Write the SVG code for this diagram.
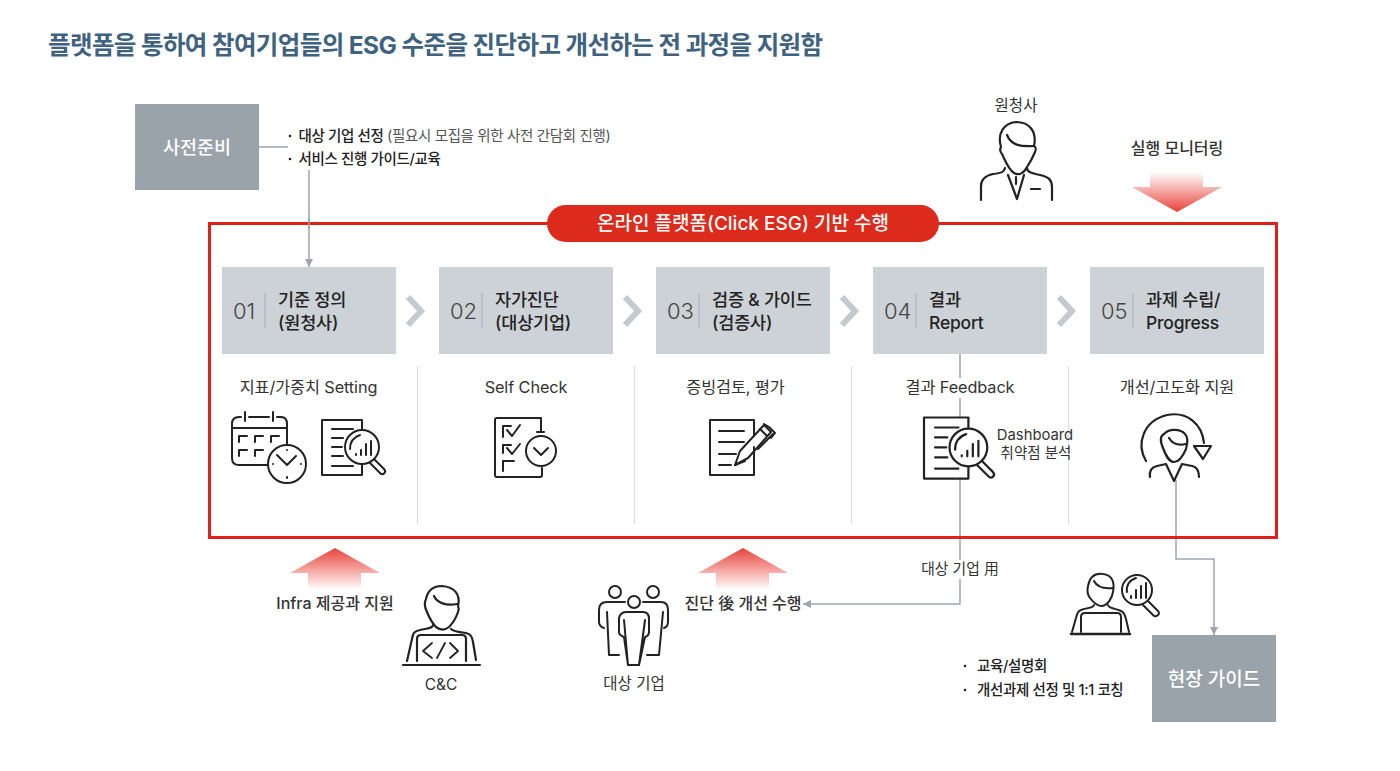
<svg xmlns="http://www.w3.org/2000/svg" width="1400" height="771" viewBox="0 0 1400 771">
<style>
text{font-family:Inter,"Noto Sans CJK KR","Noto Sans",sans-serif;fill:#333}
.ic{fill:none;stroke:#222;stroke-width:2;stroke-linecap:round;stroke-linejoin:round}
.step{fill:#cdd2d6}.gbox{fill:#9aa2aa}
.num{font-size:22px;fill:#444;font-weight:300}
.st{font-size:17.5px;font-weight:500;fill:#222;letter-spacing:-.2px}
.sub{font-size:16.300px;text-anchor:middle;fill:#333;letter-spacing:-.1px}
.lab{font-size:15.500px;fill:#333}
.b{font-size:14.500px;font-weight:500;fill:#222;letter-spacing:-.35px}
.dot{fill:#222}
.wt{fill:#fff;font-weight:500;text-anchor:middle}
.con{fill:none;stroke:#9ea5ac;stroke-width:1.5}
.div{stroke:#dcdfe2;stroke-width:1.2}
.chev{fill:none;stroke:#c5cacf;stroke-width:6}
.wb{fill:#fff}
</style>
<defs>
<linearGradient id="up" x1="0" y1="0" x2="0" y2="1"><stop offset="0" stop-color="#e8433a"/><stop offset="1" stop-color="#e8433a" stop-opacity="0"/></linearGradient>
<linearGradient id="dn" x1="0" y1="1" x2="0" y2="0"><stop offset="0" stop-color="#e8433a"/><stop offset="1" stop-color="#e8433a" stop-opacity="0"/></linearGradient>
<marker id="ah" markerWidth="10" markerHeight="10" refX="8" refY="4" orient="auto" markerUnits="userSpaceOnUse"><path d="M0 0L8 4L0 8Z" fill="#9ea5ac"/></marker>
<g id="doc">
<path class="ic" d="M40 9V0H0V55H40V45"/>
<path class="ic" d="M10 9H31M10 18H21M10 27H20M10 36H21M10 46H31"/>
<circle class="ic" cx="40" cy="27" r="17"/>
<path class="ic" d="M28 29C28 22 32 17 38 15M34 35V34M39 35V30M44 35V24M49 35V21"/>
<path class="ic" d="M52 39L62 49C65 52 61 56 58 53L48 43"/>
</g>
</defs>
<text id="title" x="48" y="54" font-size="24.5" font-weight="700" letter-spacing="-.6" style="fill:#3f6280">플랫폼을 통하여 참여기업들의 ESG 수준을 진단하고 개선하는 전 과정을 지원함</text>

<g id="connectors">
<path class="con" d="M259 147H288"/>
<path class="con" d="M309 170V267" marker-end="url(#ah)"/>
<path class="con" d="M960 354V604H803" marker-end="url(#ah)"/>
<path class="con" d="M1176 480V559H1214V635" marker-end="url(#ah)"/>
</g>

<g id="prep"><rect class="gbox" x="135" y="104" width="124" height="86"/><text class="wt" x="197" y="154" font-size="18.500">사전준비</text></g>
<g id="prep-notes">
<circle class="dot" cx="290" cy="136" r="1.300"/><circle class="dot" cx="290" cy="159" r="1.300"/>
<text class="b" x="298.500" y="141">대상 기업 선정 <tspan font-weight="400" style="fill:#555">(필요시 모집을 위한 사전 간담회 진행)</tspan></text>
<text class="b" x="298.500" y="164">서비스 진행 가이드/교육</text>
</g>

<g id="frame">
<rect x="209.500" y="223.500" width="1067" height="314" fill="none" stroke="#df2119" stroke-width="3"/>
<rect x="547" y="205" width="392" height="37" rx="18.500" fill="#dc2a1c"/>
<text class="wt" x="743" y="230" font-size="19">온라인 플랫폼(Click ESG) 기반 수행</text>
</g>
<path class="con" d="M309 218V229"/>

<g id="step1"><rect class="step" x="222" y="267" width="174" height="87"/><text class="num" x="233" y="319">01</text><path class="div" style="stroke:#aeb4ba" d="M265 293V328"/><text class="st" x="278" y="306">기준 정의</text><text class="st" x="278" y="329">(원청사)</text></g>
<g id="step2"><rect class="step" x="439" y="267" width="174" height="87"/><text class="num" x="450" y="319">02</text><path class="div" style="stroke:#aeb4ba" d="M482 293V328"/><text class="st" x="495" y="306">자가진단</text><text class="st" x="495" y="329">(대상기업)</text></g>
<g id="step3"><rect class="step" x="656" y="267" width="174" height="87"/><text class="num" x="667" y="319">03</text><path class="div" style="stroke:#aeb4ba" d="M699 293V328"/><text class="st" x="712" y="306">검증 &amp; 가이드</text><text class="st" x="712" y="329">(검증사)</text></g>
<g id="step4"><rect class="step" x="873" y="267" width="174" height="87"/><text class="num" x="884" y="319">04</text><path class="div" style="stroke:#aeb4ba" d="M916 293V328"/><text class="st" x="929" y="306">결과</text><text class="st" x="929" y="329">Report</text></g>
<g id="step5"><rect class="step" x="1090" y="267" width="174" height="87"/><text class="num" x="1101" y="319">05</text><path class="div" style="stroke:#aeb4ba" d="M1133 293V328"/><text class="st" x="1146" y="306">과제 수립/</text><text class="st" x="1146" y="329">Progress</text></g>

<g id="chevrons">
<path class="chev" d="M408 297L421 311L408 325"/><path class="chev" d="M625 297L638 311L625 325"/><path class="chev" d="M842 297L855 311L842 325"/><path class="chev" d="M1059 297L1072 311L1059 325"/>
</g>
<g id="dividers"><path class="div" d="M417.500 366V524M634.500 366V524M851.500 366V524M1068.500 366V524"/></g>

<g id="col1">
<text class="sub" x="308.500" y="393">지표/가중치 Setting</text>
<g class="ic"><path d="M267 465H239C234 465 232 462 232 458V424C232 419 235 417 239 417H241M245 412V421M249 417H269M273 412V421M277 417H281C285 417 287 420 287 424V445"/><path d="M233 428H286M239 442V436H247M255 442V436H263M271 442V436H279M239 456V450H247M255 456V450H263"/><circle cx="287" cy="464" r="19"/><path d="M277 455L287 465L296 456M287 450V450M287 477V478M273 464H273M301 464H301"/></g>
<use href="#doc" x="322" y="420"/>
</g>
<g id="col2">
<text class="sub" x="526" y="393">Self Check</text>
<g class="ic"><path d="M541 432V418H497C496 418 495 419 495 420V475C495 476 496 477 497 477H540C541 477 542 476 542 475V468"/><path d="M503 437V426H511M507 430L512 436L520 425M503 453V445H511M507 448L512 454L520 444M503 471V461H514M537 432H544"/><circle cx="541" cy="451" r="15"/><path d="M534 448L541 455L548 448"/></g>
</g>
<g id="col3">
<text class="sub" x="735.500" y="393">증빙검토, 평가</text>
<g class="ic"><path d="M754 436V420H710V475H754V447"/><path d="M719 431H744M719 442H744M719 454H736M719 465H731"/><path d="M735 465L740 451L764 425L771 432L748 458Z"/><path d="M760 429L767 436M764 424L769 427L775 433L771 438M758 449L773 434M735 465L745 461"/></g>
</g>
<g id="col4">
<rect class="wb" x="897" y="378" width="126" height="20"/>
<rect class="wb" x="955" y="417" width="12" height="62"/>
<text class="sub" x="960" y="393">결과 Feedback</text>
<use href="#doc" transform="translate(924 417.500) scale(1.11)"/>
<text class="lab" x="1035" y="440" text-anchor="middle" style="font-size:14.800px">Dashboard</text>
<text class="lab" x="1036" y="458" text-anchor="middle" style="font-size:14.500px">취약점 분석</text>
</g>
<g id="col5">
<text class="sub" x="1177" y="393">개선/고도화 지원</text>
<g class="ic" style="stroke-width:2.200"><path d="M1146 461C1136 444 1143 421 1167 415C1187 411 1202 424 1204 443"/><path d="M1194 446H1211L1203 459Z"/><path d="M1163 448C1160 441 1160 436 1164 434C1168 429 1180 428 1185 434C1188 437 1188 442 1186 449C1183 456 1179 462 1174 462C1169 462 1166 456 1163 448Z"/><path d="M1169 438C1172 443 1178 446 1186 444M1150 477C1149 470 1152 467 1157 466L1166 464L1174 481L1182 464L1192 466C1197 467 1199 471 1199 477"/></g>
</g>

<g id="client">
<text class="lab" x="1016" y="111" text-anchor="middle">원청사</text>
<g class="ic" style="stroke-width:2.200"><path d="M1001 147C997 133 1004 123 1016 122C1030 122 1037 132 1034 146C1036 147 1036 150 1035 152C1033 157 1031 161 1027 167C1024 173 1019 176 1014 173C1008 169 1005 160 1002 154C1000 152 1000 149 1001 147Z"/><path d="M1007 135C1011 145 1020 147 1034 146M1005 168C1004 172 1002 173 993 174C984 176 981 180 981 186V200M1027 168C1027 172 1031 173 1040 175C1049 177 1052 180 1052 187V200M1008 175L1017 199L1024 175M1016 177V184M1031 189H1040"/></g>
</g>
<text id="mon" class="lab" x="1177" y="154" text-anchor="middle" style="font-size:16px;font-weight:500">실행 모니터링</text>
<polygon id="arrow-down" fill="url(#dn)" points="1150,172 1203,172 1203,187 1222,187 1177,212 1132,187 1150,187"/>
<polygon id="arrow-up1" fill="url(#up)" points="335,548 380,573 361,573 361,590 308,590 308,573 290,573"/>
<polygon id="arrow-up2" fill="url(#up)" points="743,548 788,573 769,573 769,590 716,590 716,573 698,573"/>

<text class="lab" x="335" y="609" text-anchor="middle" style="font-weight:500;font-size:16px">Infra 제공과 지원</text>
<g id="cc">
<g class="ic" style="stroke-width:2.200"><path d="M426 599C428 589 434 586 442 586C454 587 461 594 458 606C459 608 459 610 458 612C456 618 452 624 449 627C444 631 440 630 436 627C431 622 429 617 427 612C425 608 424 603 426 599Z"/><path d="M434 596C437 603 446 606 457 604M433 625C433 628 429 628 420 630C414 631 413 633 412 639L407 661M451 629C452 631 458 632 466 633C471 634 472 637 473 642L476 660"/><path d="M417 661V639C417 636 418 635 421 635H462C465 635 466 636 466 639V661M403 665H480"/><path d="M432 643L423 651L432 658M450 643L458 651L450 658M445 643L437 658" style="stroke-width:1.800"/></g>
<text class="lab" x="441" y="690" text-anchor="middle">C&amp;C</text>
</g>
<g id="firm">
<g class="ic"><circle cx="615" cy="592" r="6"/><circle cx="653" cy="592" r="6"/><circle cx="634" cy="602" r="6"/><path d="M625 602H607C602 602 599 605 599 610V622C599 625 601 627 604 628"/><path d="M643 602H661C666 602 668 605 668 610V622C668 625 667 627 664 628M607 612L609 655H619M663 612L659 655H647"/><path d="M619 632V619C619 615 622 612 626 612H643C647 612 649 615 649 619V632C649 635 648 636 645 637L639 665H628L624 637C621 636 619 635 619 632ZM624 620L628 665M645 620L639 665"/></g>
<text class="lab" x="634" y="689" text-anchor="middle">대상 기업</text>
</g>
<text class="lab" x="743" y="609" text-anchor="middle" style="font-weight:500;font-size:16px">진단 後 개선 수행</text>
<rect class="wb" x="918" y="560" width="86" height="19"/>
<text class="lab" x="960" y="574" text-anchor="middle" style="font-size:14.800px">대상 기업 用</text>

<g id="guide-ic"><g class="ic"><path d="M1088 586C1090 576 1096 573 1103 574C1112 575 1115 582 1113 592C1112 598 1108 605 1102 606C1097 606 1093 602 1090 598C1087 594 1087 590 1088 586Z"/><path d="M1094 581C1097 587 1104 589 1113 588M1094 605C1094 608 1086 608 1081 610C1078 611 1077 613 1076 618L1072 632M1108 605C1108 608 1117 609 1121 611C1124 612 1125 615 1126 619L1129 632M1081 632V617C1081 614 1082 613 1085 613H1117C1120 613 1121 614 1121 617V632"/><path d="M1071 634H1130" stroke-width="2.500"/></g>
<g class="ic"><circle cx="1137" cy="590" r="15"/><path d="M1127 592C1126 586 1129 580 1136 578M1131 598V596M1136 598V590M1141 598V586M1146 598V583"/><path d="M1148 601L1158 611C1161 614 1156 618 1153 615L1143 605"/></g></g>
<g id="guide-notes">
<circle class="dot" cx="965" cy="666" r="1.300"/><circle class="dot" cx="965" cy="690" r="1.300"/>
<text class="b" x="977" y="671">교육/설명회</text>
<text class="b" x="977" y="695">개선과제 선정 및 1:1 코칭</text>
</g>
<g id="guide"><rect class="gbox" x="1152" y="635" width="124" height="87"/><text class="wt" x="1214" y="686" font-size="19">현장 가이드</text></g>
</svg>
